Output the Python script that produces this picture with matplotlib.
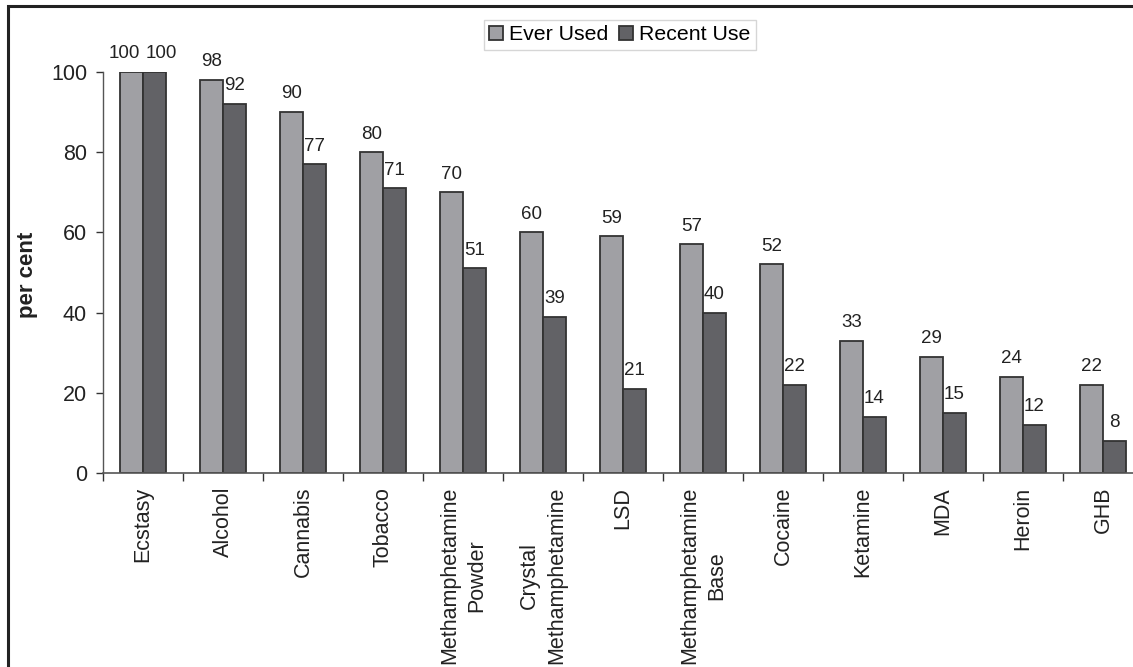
import numpy as np
import matplotlib
matplotlib.use("Agg")
import matplotlib.pyplot as plt
from matplotlib.patches import Rectangle

plt.rcParams["font.family"] = ["Liberation Sans", "DejaVu Sans"]

# Drug use data (per cent)
drugs = ["Ecstasy", "Alcohol", "Cannabis", "Tobacco", "Methamphetamine\nPowder",
         "Crystal\nMethamphetamine", "LSD", "Methamphetamine\nBase", "Cocaine",
         "Ketamine", "MDA", "Heroin", "GHB"]
ever_used = [100, 98, 90, 80, 70, 60, 59, 57, 52, 33, 29, 24, 22]
recent_use = [100, 92, 77, 71, 51, 39, 21, 40, 22, 14, 15, 12, 8]

W, H = 1133, 667
fig = plt.figure(figsize=(W / 100, H / 100), dpi=100)

# plot area runs a little past the right edge of the page
ax = fig.add_axes([103 / W, 194 / H, 1040 / W, 401 / H])

x = np.arange(len(drugs))
bw = 0.2875
edge = "#333333"
b1 = ax.bar(x - bw / 2, ever_used, bw, color="#a0a0a4", edgecolor=edge,
            linewidth=1.3, label="Ever Used")
b2 = ax.bar(x + bw / 2, recent_use, bw, color="#626266", edgecolor=edge,
            linewidth=1.3, label="Recent Use")

# value labels; push equal-height pairs apart so they don't collide
for i in range(len(drugs)):
    nudge = 0.09 if ever_used[i] == recent_use[i] else 0
    for r, dx in ((b1[i], -nudge), (b2[i], nudge)):
        ax.text(r.get_x() + r.get_width() / 2 + dx, r.get_height() + 2.4,
                f"{r.get_height():.0f}", ha="center", va="bottom",
                fontsize=13.5, color="#222222", clip_on=False)

ax.set_xlim(-0.5, len(drugs) - 0.5)
ax.set_ylim(0, 100)
ax.set_yticks(range(0, 101, 20))
ax.tick_params(axis="y", labelsize=15.5, length=5, width=1, color="#333333",
               pad=6.5, labelcolor="#222222")

ax.set_xticks(x)
ax.set_xticklabels(drugs, rotation=90, fontsize=15.5, color="#222222",
                   ha="center", va="top", multialignment="center",
                   linespacing=1.35)
ax.set_xticks(np.arange(-0.5, len(drugs)), minor=True)
ax.tick_params(axis="x", which="major", length=0, pad=10)
ax.tick_params(axis="x", which="minor", length=6, width=1, color="#333333")

for s in ("top", "right"):
    ax.spines[s].set_visible(False)
ax.spines["left"].set_color("#555555")
ax.spines["bottom"].set_color("#555555")
ax.spines["left"].set_linewidth(1)
ax.spines["bottom"].set_linewidth(1.2)

fig.text(27 / W, 1 - 275 / H, "per cent", rotation=90, ha="center",
         va="center", fontsize=16, fontweight="bold", color="#222222")

leg = ax.legend(loc="upper center", bbox_to_anchor=(620 / W, 1 - 20 / H),
                bbox_transform=fig.transFigure, ncol=2, fontsize=15.3,
                frameon=True, fancybox=False, handlelength=0.65,
                handleheight=0.65, handletextpad=0.3, columnspacing=0.5,
                borderpad=0.25, borderaxespad=0)
leg.get_frame().set_edgecolor("#cccccc")
leg.get_frame().set_linewidth(1)

# page frame (right and bottom edges fall outside the image)
fig.patches.append(Rectangle((8 / W, -0.1), 1.2, 1.1 - 5.5 / H,
                             transform=fig.transFigure, fill=False,
                             edgecolor="#222222", linewidth=2.2))

fig.savefig("out.png", dpi=100)
